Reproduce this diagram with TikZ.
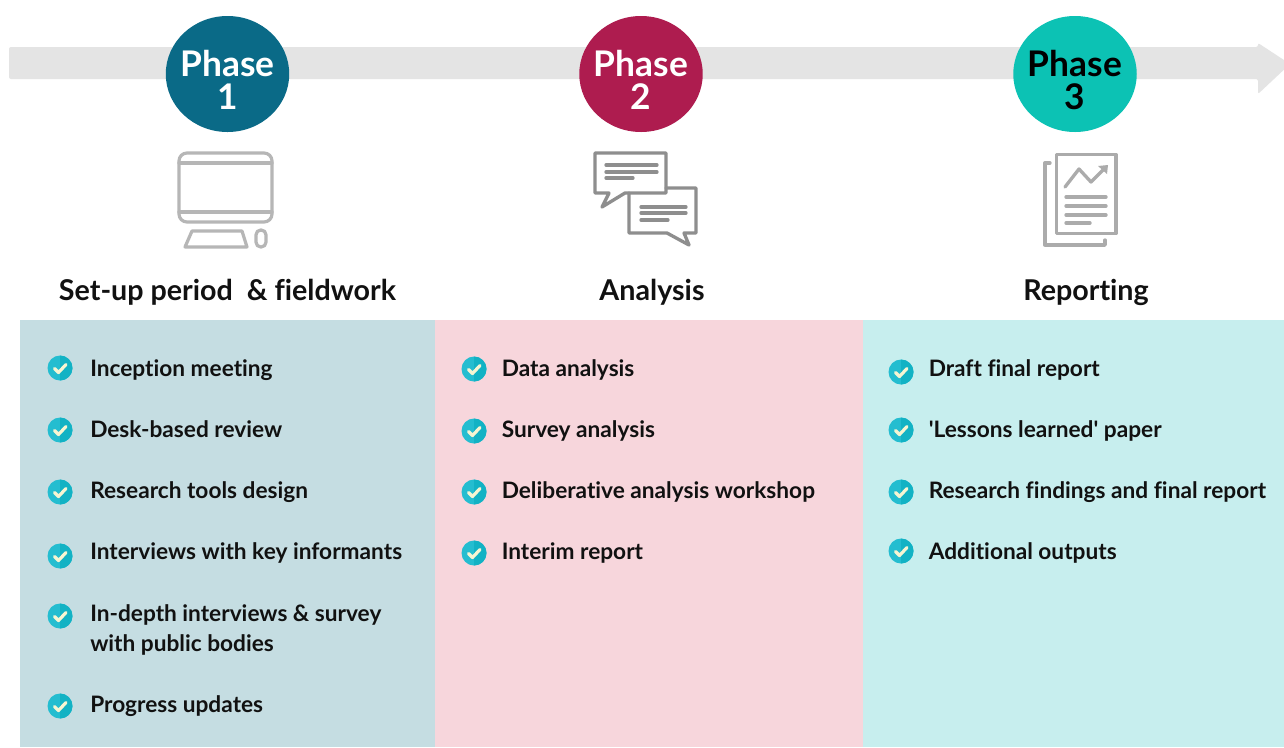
\documentclass[tikz,border=0pt]{standalone}
\usepackage{fontspec}
\newfontfamily\latotext{Lato}[BoldFont={Lato Bold},Ligatures=NoCommon]
\setmainfont{Lato}[BoldFont={Lato Bold},Ligatures=NoCommon]
\usetikzlibrary{shapes.geometric}
\definecolor{band}{HTML}{E4E4E4}
\definecolor{phaseA}{HTML}{0A6A87}
\definecolor{phaseB}{HTML}{AE1C4F}
\definecolor{phaseC}{HTML}{0CC2B4}
\definecolor{panelA}{HTML}{C5DDE2}
\definecolor{panelB}{HTML}{F7D6DC}
\definecolor{panelC}{HTML}{C7EEEE}
\definecolor{tickL}{HTML}{24BDD0}
\definecolor{tickD}{HTML}{12B2C4}
\definecolor{tickM}{HTML}{F6F5D2}
\definecolor{iconA}{HTML}{B6B6B6}
\definecolor{iconB}{HTML}{8E8E8E}
\definecolor{iconC}{HTML}{ABABAB}
\definecolor{ink}{HTML}{111111}
\tikzset{
  phasedisc/.style={ellipse,minimum width=92.6pt,minimum height=87pt,inner sep=0pt},
  phasetext/.style={inner sep=0pt,align=center,font=\fontsize{26.5}{24.8}\selectfont\bfseries},
  headnode/.style={inner sep=0pt,anchor=center,text=ink,font=\fontsize{21.5}{25}\selectfont\bfseries},
  itemnode/.style={inner sep=0pt,anchor=base west,text=ink,align=left,
    font=\latotext\fontsize{17}{22.6}\selectfont\bfseries},
  iconline/.style={line width=3.4,line join=round,line cap=round},
  tickbadge/.pic={
    \fill[tickL] (0,0) circle[radius=12.5];
    \fill[tickD] (0,-12.5) arc[start angle=-90,end angle=90,radius=12.5] -- cycle;
    \draw[tickM,line width=2.4pt,line cap=round,line join=round] (-5.5,0.5) -- (-1.5,4.5) -- (6,-3.5);
  }
}
\begin{document}
\begin{tikzpicture}[x=0.75pt,y=-0.75pt]
\useasboundingbox (0,0) rectangle (1284,747);
\fill[white] (0,0) rectangle (1284,747);
% timeline
\fill[band,rounded corners=1.5pt] (9,47) -- (1258,47) -- (1258,43) -- (1290,64) -- (1258,94) -- (1258,79) -- (9,79) -- cycle;
% panels
\fill[panelA] (20,320) rectangle (435,747);
\fill[panelB] (435,320) rectangle (863,747);
\fill[panelC] (863,320) rectangle (1284,747);
% phases
\node[phasedisc,fill=phaseA] (d1) at (227.5,74) {};
\node[phasedisc,fill=phaseB] (d2) at (641,74) {};
\node[phasedisc,fill=phaseC] (d3) at (1075,74) {};
\node[phasetext,text=white] (p1) at (227.5,80) {Phase\\1};
\node[phasetext,text=white] (p2) at (641,80) {Phase\\2};
\node[phasetext,text=black] (p3) at (1075,80) {Phase\\3};
% monitor icon
\begin{scope}[iconA,iconline,line width=2.4pt]
\draw[rounded corners=6pt] (179,153) rectangle (272,222);
\draw (179,163) -- (272,163);
\draw (179,212) -- (272,212);
\draw (192,231) -- (242,231) -- (247,247) -- (185,247) -- cycle;
\draw[rounded corners=3.6pt] (256,230) rectangle (266,247);
\end{scope}
% chat icon
\begin{scope}[iconB,line width=2.5pt,line join=round,line cap=round]
\draw (595,153) -- (666,153) -- (666,193) -- (625,193) -- (602,207) -- (609,193) -- (595,193) -- cycle;
\draw (606,165) -- (657,165);
\draw (606,172) -- (657,172);
\draw (606,178) -- (633,178);
\draw (629,193) -- (629,233) -- (667,233) -- (689,245) -- (684,233) -- (696,233) -- (696,188) -- (666,188);
\draw (641,207) -- (686,207);
\draw (641,213) -- (686,213);
\draw (641,220) -- (668,220);
\end{scope}
% report icon
\begin{scope}[iconC,line width=2.5pt,line join=round,line cap=round]
\draw (1056.5,154.5) rectangle (1116,233.5);
\draw (1050,163) -- (1045,163) -- (1045,245) -- (1105,245) -- (1105,240);
\draw (1065,187) -- (1079,169) -- (1091,182) -- (1104,169);
\fill (1098,166) -- (1108,165) -- (1107,174) -- cycle;
\draw (1066,197) -- (1106,197);
\draw (1066,206) -- (1106,206);
\draw (1066,215) -- (1106,215);
\draw (1066,223) -- (1090,223);
\end{scope}
% headings
\node[headnode] (h1) at (227.5,292) {Set-up period\ \ \& fieldwork};
\node[headnode] (h2) at (652,292) {Analysis};
\node[headnode] (h3) at (1086,292) {Reporting};
% ticks
\foreach \px/\py in {60/368,60/430,60/492,60/556,60/616,60/706,
                     474/369,474/431,474/492,474/553,
                     901/372,901/430,901/492,901/551}
  \pic at (\px,\py) {tickbadge};
% items column 1
\node[itemnode] (a1) at (90,376) {Inception meeting};
\node[itemnode] (a2) at (90,437) {Desk-based review};
\node[itemnode] (a3) at (90,498) {Research tools design};
\node[itemnode] (a4) at (90,559) {Interviews with key informants};
\node[itemnode] (a5) at (90,621) {In-depth interviews \& survey};
\node[itemnode] (a5b) at (90,651) {with public bodies};
\node[itemnode] (a6) at (90,712) {Progress updates};
% items column 2
\node[itemnode] (b1) at (501.5,376) {Data analysis};
\node[itemnode] (b2) at (501.5,437) {Survey analysis};
\node[itemnode] (b3) at (501.5,498) {Deliberative analysis workshop};
\node[itemnode] (b4) at (501.5,559) {Interim report};
% items column 3
\node[itemnode] (c1) at (928.5,376) {Draft final report};
\node[itemnode] (c2) at (928.5,437) {'Lessons learned' paper};
\node[itemnode] (c3) at (928.5,498) {Research findings and final report};
\node[itemnode] (c4) at (928.5,559) {Additional outputs};
\end{tikzpicture}
\end{document}
